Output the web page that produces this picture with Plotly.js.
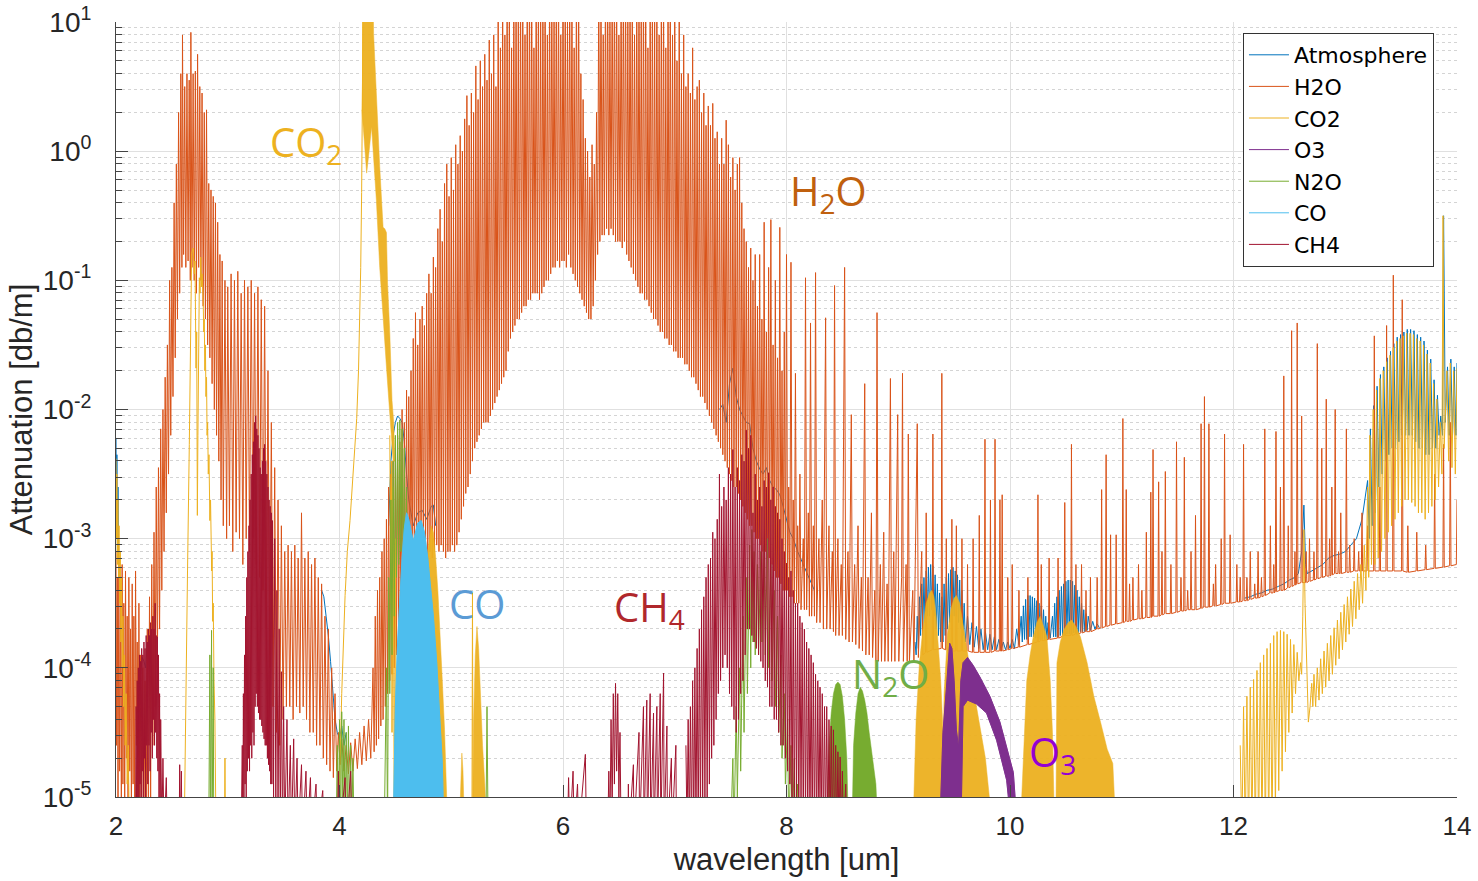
<!DOCTYPE html>
<html>
<head>
<meta charset="utf-8">
<script src="https://cdn.plot.ly/plotly-3.0.1.min.js"></script>
<style>html,body{margin:0;padding:0;background:#fff;}#chart{width:1478px;height:881px;}</style>
</head>
<body>
<div id="chart"></div>
<script>
// All series: [wavelength (um), log10 of attenuation (dB/m)]; null = gap.
const ATMOSPHERE_LOG = [
[2.0,-2.22],[2.004,-2.9],[2.008,-2.35],[2.013,-3.1],[2.018,-2.6],[2.024,-3.2],null,
[2.22,-4.05],[2.235,-3.92],[2.25,-3.95],[2.265,-4.0],[2.28,-3.8],null,
[3.84,-3.4],[3.86,-3.45],[3.88,-3.6],[3.90,-3.75],[3.92,-3.95],[3.94,-4.2],[3.96,-4.4],[3.98,-4.5],[4.00,-4.55],[4.02,-4.45],[4.04,-4.6],[4.06,-4.5],null,
[4.44,-2.9],[4.46,-2.4],[4.48,-2.2],[4.50,-2.1],[4.52,-2.05],[4.54,-2.07],[4.56,-2.1],[4.58,-2.25],[4.60,-2.5],[4.62,-2.7],[4.64,-2.8],[4.66,-2.9],[4.70,-2.8],[4.74,-2.78],[4.78,-2.85],[4.82,-2.75],[4.84,-2.74],[4.86,-2.9],null,
[7.40,-2.0],[7.43,-1.96],[7.46,-2.1],[7.49,-1.8],[7.52,-1.68],[7.55,-1.9],[7.58,-2.0],[7.61,-2.05],[7.64,-2.1],[7.67,-2.11],[7.70,-2.3],[7.73,-2.4],[7.76,-2.46],[7.79,-2.5],[7.82,-2.45],[7.85,-2.55],[7.88,-2.6],[7.91,-2.62],[7.94,-2.66],[7.97,-2.75],[8.00,-2.85],[8.03,-2.95],[8.06,-3.0],[8.10,-3.1],[8.15,-3.2],[8.20,-3.3],[8.25,-3.4],null,
[9.15,-3.8],[9.16,-3.9],[9.17,-3.6],[9.18,-3.85],[9.19,-3.45],[9.20,-3.75],[9.21,-3.35],[9.22,-3.7],[9.23,-3.3],[9.24,-3.65],[9.25,-3.25],[9.26,-3.6],[9.27,-3.22],[9.28,-3.6],[9.29,-3.2],[9.30,-3.55],[9.31,-3.21],[9.32,-3.6],[9.33,-3.28],[9.34,-3.7],[9.35,-3.35],[9.36,-3.75],[9.37,-3.42],[9.38,-3.8],[9.39,-3.45],[9.40,-3.8],[9.41,-3.35],[9.42,-3.75],[9.43,-3.3],[9.44,-3.7],[9.45,-3.27],[9.46,-3.65],[9.47,-3.24],[9.48,-3.6],[9.49,-3.22],[9.50,-3.6],[9.51,-3.25],[9.52,-3.6],[9.53,-3.28],[9.54,-3.65],[9.55,-3.32],[9.56,-3.7],[9.57,-3.4],[9.58,-3.75],[9.59,-3.5],[9.60,-3.8],[9.62,-3.6],[9.64,-3.82],[9.66,-3.65],[9.68,-3.84],[9.70,-3.68],[9.72,-3.85],[9.74,-3.7],[9.76,-3.86],[9.78,-3.72],[9.80,-3.86],[9.82,-3.74],[9.84,-3.86],[9.86,-3.76],[9.88,-3.86],[9.90,-3.78],[9.92,-3.86],[9.94,-3.8],[9.96,-3.86],[9.98,-3.8],[10.00,-3.85],[10.02,-3.78],[10.04,-3.85],[10.06,-3.7],[10.08,-3.82],[10.10,-3.6],[10.11,-3.8],[10.12,-3.52],[10.13,-3.78],[10.14,-3.47],[10.15,-3.78],[10.16,-3.44],[10.17,-3.76],[10.18,-3.44],[10.19,-3.76],[10.20,-3.45],[10.21,-3.76],[10.22,-3.46],[10.23,-3.77],[10.24,-3.48],[10.25,-3.77],[10.26,-3.5],[10.27,-3.78],[10.28,-3.52],[10.29,-3.78],[10.30,-3.55],[10.31,-3.78],[10.32,-3.6],[10.33,-3.78],[10.34,-3.65],[10.36,-3.77],[10.38,-3.6],[10.39,-3.76],[10.40,-3.5],[10.41,-3.76],[10.42,-3.45],[10.43,-3.76],[10.44,-3.4],[10.45,-3.75],[10.46,-3.37],[10.47,-3.75],[10.48,-3.35],[10.49,-3.75],[10.50,-3.33],[10.51,-3.74],[10.52,-3.32],[10.53,-3.74],[10.54,-3.32],[10.55,-3.74],[10.56,-3.33],[10.57,-3.73],[10.58,-3.36],[10.59,-3.73],[10.60,-3.4],[10.61,-3.73],[10.62,-3.45],[10.63,-3.72],[10.64,-3.5],[10.65,-3.72],[10.66,-3.55],[10.67,-3.72],[10.68,-3.58],[10.69,-3.71],[10.70,-3.6],[10.72,-3.71],[10.74,-3.64],[10.76,-3.7],[10.78,-3.66],[10.80,-3.69],null,
[12.10,-3.46],[12.15,-3.45],[12.20,-3.43],[12.25,-3.42],[12.30,-3.4],[12.35,-3.39],[12.40,-3.37],[12.45,-3.35],[12.50,-3.32],[12.55,-3.3],[12.58,-3.27],[12.61,-3.1],[12.63,-2.74],[12.645,-3.2],[12.66,-3.27],[12.70,-3.25],[12.75,-3.22],[12.80,-3.2],[12.85,-3.15],[12.90,-3.13],[12.95,-3.12],[13.00,-3.1],[13.05,-3.05],[13.10,-3.0],[13.15,-2.85],
[13.20,-2.55],[13.215,-3.0],[13.225,-2.15],[13.24,-2.9],[13.255,-1.97],[13.27,-2.8],[13.285,-1.82],[13.30,-2.6],[13.315,-1.73],[13.33,-2.5],[13.345,-1.67],[13.36,-2.4],[13.375,-1.6],[13.39,-2.35],[13.405,-1.55],[13.42,-2.3],[13.435,-1.49],[13.45,-2.3],[13.465,-1.44],[13.48,-2.25],[13.495,-1.42],[13.51,-2.2],[13.525,-1.4],[13.54,-2.2],[13.555,-1.38],[13.57,-2.2],[13.585,-1.38],[13.60,-2.2],[13.615,-1.39],[13.63,-2.25],[13.645,-1.42],[13.66,-2.3],[13.675,-1.44],[13.69,-2.3],[13.705,-1.47],[13.72,-2.35],[13.735,-1.54],[13.75,-2.35],[13.765,-1.61],[13.78,-2.3],[13.795,-1.77],[13.81,-2.3],[13.825,-1.89],[13.84,-2.2],[13.855,-2.05],[13.87,-2.2],[13.88,-0.5],[13.895,-2.1],[13.915,-1.67],[13.93,-2.2],[13.945,-1.61],[13.96,-2.2],[13.975,-1.67],[13.99,-2.2],[14.0,-1.64]
];

const H2O_LOG = [
[2.000,-3.1],[2.005,-4.6],[2.012,-3.3],[2.018,-5.2],[2.025,-3.15],[2.032,-4.8],[2.040,-3.4],[2.048,-5.2],[2.055,-3.2],[2.062,-4.9],[2.070,-3.5],[2.078,-5.2],[2.085,-3.25],[2.093,-4.7],[2.100,-3.6],[2.108,-5.2],[2.115,-3.3],[2.123,-4.8],[2.130,-3.7],[2.138,-5.2],[2.145,-3.35],[2.153,-4.9],[2.160,-3.6],[2.168,-5.2],[2.175,-3.25],[2.183,-4.6],[2.190,-3.8],[2.198,-5.2],[2.205,-3.5],[2.213,-5.2],[2.220,-3.9],[2.230,-5.2],[2.240,-4.0],[2.250,-5.2],[2.260,-4.1],[2.270,-5.2],[2.280,-3.7],[2.290,-5.2],[2.300,-3.45],[2.310,-5.0],[2.320,-3.2],[2.330,-4.6],[2.340,-2.95],[2.350,-4.3],[2.360,-2.6],[2.370,-4.0],[2.380,-2.45],[2.390,-3.7],[2.400,-2.15],[2.410,-3.4],[2.420,-2.0],[2.430,-3.1],[2.440,-1.75],[2.450,-2.8],[2.460,-1.5],[2.470,-2.5],[2.480,-1.0],[2.490,-2.2],[2.500,-0.9],[2.510,-1.9],[2.520,-0.4],[2.530,-1.6],[2.540,-0.1],[2.550,-1.3],[2.560,0.3],[2.570,-1.1],[2.580,0.6],[2.590,-0.9],[2.595,0.9],[2.605,-0.8],[2.615,0.5],[2.625,-0.9],[2.635,0.6],[2.645,-0.85],[2.655,0.55],[2.665,-1.0],[2.670,0.92],[2.680,-0.9],[2.690,0.6],[2.700,-1.0],[2.710,0.62],[2.720,-1.1],[2.730,0.75],[2.740,-0.9],[2.750,0.5],[2.760,-1.0],[2.770,0.45],[2.780,-1.2],[2.790,0.3],[2.800,-1.3],[2.810,0.32],[2.820,-1.5],[2.830,-0.25],[2.840,-1.6],[2.850,-0.3],[2.860,-1.8],[2.870,-0.35],[2.880,-2.0],[2.890,-0.4],[2.900,-2.2],[2.910,-0.55],[2.920,-2.4],[2.930,-0.8],[2.940,-2.7],[2.950,-0.85],[2.960,-2.9],[2.975,-1.0],[2.990,-3.0],[3.000,-1.05],[3.015,-2.9],[3.030,-0.95],[3.045,-3.1],[3.060,-1.0],[3.075,-2.95],[3.090,-0.93],[3.105,-3.0],[3.120,-1.1],[3.135,-3.2],[3.150,-1.0],[3.165,-3.0],[3.180,-1.05],[3.195,-3.1],[3.210,-1.0],[3.225,-3.0],[3.240,-1.1],[3.255,-3.2],[3.270,-1.05],[3.285,-3.3],[3.300,-1.15],[3.315,-3.4],[3.330,-1.2],[3.345,-3.7],[3.360,-1.7],[3.375,-4.0],[3.390,-2.1],[3.405,-4.3],[3.420,-2.45],[3.435,-4.5],[3.450,-2.7],[3.465,-4.6],[3.480,-2.9],[3.495,-4.4],[3.510,-3.1],[3.525,-4.3],[3.540,-3.05],[3.555,-4.3],[3.570,-3.1],[3.585,-4.4],[3.600,-3.05],[3.615,-4.3],[3.630,-3.15],[3.645,-4.35],[3.660,-2.8],[3.675,-4.3],[3.690,-3.15],[3.705,-4.4],[3.720,-3.1],[3.735,-4.5],[3.750,-3.2],[3.765,-4.5],[3.780,-3.15],[3.795,-4.6],[3.810,-3.3],[3.825,-4.6],[3.840,-3.35],[3.855,-4.7],[3.870,-3.6],[3.885,-4.75],[3.900,-3.7],[3.915,-4.8],[3.930,-4.0],[3.945,-4.85],[3.960,-4.2],[3.975,-4.8],[3.990,-4.5],[4.005,-4.75],
[4.020,-4.55],[4.040,-4.8],[4.060,-4.6],[4.080,-4.82],[4.100,-4.58],[4.120,-4.8],[4.140,-4.55],[4.160,-4.78],[4.180,-4.5],[4.200,-4.75],[4.220,-4.45],[4.240,-4.72],[4.260,-4.4],[4.280,-4.7],[4.300,-4.0],[4.310,-4.65],[4.320,-3.6],[4.330,-4.6],[4.340,-3.4],[4.350,-4.55],[4.360,-3.3],[4.370,-4.45],[4.380,-3.1],[4.390,-4.4],[4.400,-3.0],[4.410,-4.3],[4.420,-2.85],[4.430,-4.2],[4.440,-2.6],[4.450,-4.1],[4.460,-2.5],[4.470,-4.05],[4.480,-2.4],[4.490,-4.0],[4.500,-2.3],[4.510,-3.9],[4.520,-2.2],[4.530,-3.8],[4.540,-2.25],[4.550,-3.7],[4.560,-2.0],[4.570,-3.65],[4.580,-2.1],[4.590,-3.55],[4.600,-1.85],[4.610,-3.5],[4.620,-1.9],[4.630,-3.45],[4.640,-1.7],[4.650,-3.4],[4.660,-1.45],[4.670,-3.3],[4.680,-1.25],[4.690,-3.3],[4.700,-1.5],[4.710,-3.2],[4.720,-1.3],[4.730,-3.25],[4.740,-1.2],[4.750,-3.2],[4.760,-1.35],[4.770,-3.15],[4.780,-1.1],[4.790,-3.2],[4.800,-0.95],[4.810,-3.1],[4.820,-1.1],[4.830,-3.15],[4.840,-0.82],[4.850,-3.1],[4.860,-0.9],[4.870,-3.05],[4.880,-0.6],[4.890,-3.1],[4.900,-0.45],[4.910,-3.05],[4.920,-0.7],[4.930,-3.1],[4.940,-0.25],[4.950,-3.15],[4.960,-0.1],[4.970,-3.1],[4.980,-0.35],[4.990,-3.1],[5.000,-0.05],[5.010,-3.05],[5.020,-0.3],[5.030,-3.1],[5.040,0.05],[5.050,-3.05],[5.060,-0.1],[5.070,-2.95],[5.080,0.12],[5.090,-2.85],[5.100,0.0],[5.110,-2.75],[5.120,0.25],[5.130,-2.65],[5.140,0.43],[5.150,-2.6],[5.160,0.2],[5.170,-2.5],[5.180,0.45],[5.190,-2.4],[5.200,0.3],[5.210,-2.3],[5.220,0.66],[5.230,-2.25],[5.240,0.4],[5.250,-2.2],[5.260,0.7],[5.270,-2.15],[5.280,0.5],[5.290,-2.1],[5.300,0.75],[5.310,-2.1],[5.320,0.55],[5.330,-2.1],[5.340,0.86],[5.350,-2.05],[5.360,0.6],[5.370,-2.0],[5.380,0.9],[5.390,-1.95],[5.400,0.5],[5.410,-1.9],[5.420,1.3],[5.430,-1.85],[5.440,0.8],[5.450,-1.8],[5.460,1.3],[5.470,-1.75],[5.480,0.9],[5.490,-1.7],[5.500,1.3],[5.510,-1.55],[5.520,1.3],[5.530,-1.45],[5.540,0.8],[5.550,-1.4],[5.560,1.3],[5.570,-1.35],[5.580,1.3],[5.590,-1.3],[5.600,1.0],[5.610,-1.3],[5.620,1.3],[5.630,-1.25],[5.640,1.3],[5.650,-1.2],[5.660,0.9],[5.670,-1.2],[5.680,1.3],[5.690,-1.15],[5.700,1.3],[5.710,-1.15],[5.720,1.3],[5.730,-1.1],[5.740,0.8],[5.750,-1.1],[5.760,1.3],[5.770,-1.1],[5.780,1.3],[5.790,-1.15],[5.800,1.0],[5.810,-1.1],[5.820,1.3],[5.830,-1.05],[5.840,1.3],[5.850,-1.0],[5.860,0.9],[5.870,-1.0],[5.880,1.3],[5.890,-0.95],[5.900,1.3],[5.910,-0.9],[5.920,1.0],[5.930,-0.9],[5.940,1.3],[5.950,-0.85],[5.960,1.3],[5.970,-0.9],[5.980,0.9],[5.990,-0.85],
[6.000,1.3],[6.010,-0.85],[6.020,1.3],[6.030,-0.9],[6.040,1.0],[6.050,-0.8],[6.060,1.3],[6.070,-0.9],[6.080,1.3],[6.090,-0.95],[6.100,0.8],[6.110,-1.0],[6.120,1.3],[6.130,-1.05],[6.140,1.3],[6.150,-1.1],[6.160,0.6],[6.170,-1.15],[6.180,0.4],[6.190,-1.2],[6.200,0.1],[6.210,-1.25],[6.220,0.0],[6.230,-1.3],[6.240,-0.2],[6.250,-1.3],[6.260,0.05],[6.270,-1.2],[6.280,-0.1],[6.290,-1.0],[6.300,0.3],[6.310,-0.8],[6.320,1.3],[6.330,-0.7],[6.340,1.3],[6.350,-0.65],[6.360,0.9],[6.370,-0.65],[6.380,1.3],[6.390,-0.6],[6.400,1.3],[6.410,-0.65],[6.420,1.0],[6.430,-0.6],[6.440,1.3],[6.450,-0.65],[6.460,1.3],[6.470,-0.7],[6.480,1.3],[6.490,-0.7],[6.500,0.9],[6.510,-0.7],[6.520,1.3],[6.530,-0.75],[6.540,1.3],[6.550,-0.7],[6.560,1.3],[6.570,-0.8],[6.580,1.0],[6.590,-0.85],[6.600,1.3],[6.610,-0.9],[6.620,1.3],[6.630,-0.95],[6.640,0.9],[6.650,-1.0],[6.660,1.3],[6.670,-1.05],[6.680,1.3],[6.690,-1.1],[6.700,1.0],[6.710,-1.1],[6.720,1.3],[6.730,-1.15],[6.740,1.3],[6.750,-1.15],[6.760,0.8],[6.770,-1.2],[6.780,1.3],[6.790,-1.25],[6.800,1.3],[6.810,-1.3],[6.820,1.0],[6.830,-1.3],[6.840,1.3],[6.850,-1.35],[6.860,0.9],[6.870,-1.4],[6.880,1.3],[6.890,-1.4],[6.900,1.3],[6.910,-1.45],[6.920,0.8],[6.930,-1.45],[6.940,1.3],[6.950,-1.5],[6.960,1.3],[6.970,-1.5],[6.980,0.9],[6.990,-1.55],
[7.000,1.3],[7.010,-1.55],[7.020,0.7],[7.030,-1.6],[7.040,1.3],[7.050,-1.6],[7.060,0.6],[7.070,-1.6],[7.080,0.9],[7.090,-1.65],[7.100,0.5],[7.110,-1.65],[7.120,0.6],[7.130,-1.7],[7.140,0.45],[7.150,-1.75],[7.160,0.8],[7.170,-1.75],[7.180,0.4],[7.190,-1.8],[7.200,0.5],[7.210,-1.85],[7.220,0.55],[7.230,-1.9],[7.240,0.3],[7.250,-1.9],[7.260,0.45],[7.270,-1.95],[7.280,0.2],[7.290,-2.0],[7.300,0.35],[7.310,-2.05],[7.320,0.2],[7.330,-2.1],[7.340,0.37],[7.350,-2.15],[7.360,0.1],[7.370,-2.2],[7.380,0.15],[7.390,-2.25],[7.400,-0.1],[7.410,-2.3],[7.420,0.1],[7.430,-2.35],[7.440,-0.1],[7.450,-2.4],[7.460,0.24],[7.470,-2.45],[7.480,0.05],[7.490,-2.5],[7.500,-0.2],[7.510,-2.55],[7.520,-0.05],[7.530,-2.6],[7.540,-0.3],[7.550,-2.6],[7.560,-0.1],[7.570,-2.65],[7.580,-0.05],[7.590,-2.7],[7.600,-0.4],[7.610,-2.75],[7.620,-0.6],[7.630,-2.8],[7.640,-0.7],[7.650,-2.85],[7.660,-0.9],[7.670,-2.9],[7.680,-0.75],[7.690,-2.9],[7.700,-1.0],[7.710,-2.95],[7.720,-0.8],[7.730,-3.0],[7.740,-1.2],[7.750,-3.0],[7.760,-0.8],[7.770,-3.05],[7.780,-1.3],[7.790,-3.1],[7.800,-0.55],[7.810,-3.1],[7.820,-1.4],[7.830,-3.15],[7.840,-0.9],[7.850,-3.15],[7.860,-0.53],[7.870,-3.2],[7.880,-1.5],[7.890,-3.25],[7.900,-1.0],[7.910,-3.3],[7.920,-1.6],[7.930,-3.3],[7.940,-0.59],[7.950,-3.35],[7.960,-1.7],[7.970,-3.4],[7.980,-1.4],[7.990,-3.4],
[8.000,-0.8],[8.010,-3.4],[8.020,-2.6],[8.030,-3.45],[8.040,-0.86],[8.050,-3.45],[8.060,-2.7],[8.070,-3.5],[8.080,-1.72],[8.090,-3.5],[8.100,-2.9],[8.110,-3.5],[8.120,-2.5],[8.130,-3.55],[8.150,-3.0],[8.160,-3.55],[8.170,-0.98],[8.180,-3.55],[8.195,-2.8],[8.205,-3.6],[8.215,-1.33],[8.225,-3.6],[8.240,-2.9],[8.250,-3.6],[8.260,-0.94],[8.270,-3.65],[8.290,-3.0],[8.300,-3.65],[8.320,-2.7],[8.330,-3.7],[8.350,-1.29],[8.360,-3.7],[8.380,-2.9],[8.390,-3.7],[8.410,-3.1],[8.420,-3.72],[8.430,-1.04],[8.440,-3.75],[8.460,-3.0],[8.470,-3.75],[8.490,-3.2],[8.500,-3.75],[8.520,-0.9],[8.530,-3.78],[8.550,-3.1],[8.560,-3.8],[8.580,-2.04],[8.590,-3.8],[8.610,-3.2],[8.620,-3.82],[8.640,-2.9],[8.650,-3.85],[8.670,-3.3],[8.680,-3.87],[8.700,-1.8],[8.710,-3.9],[8.730,-3.3],[8.740,-3.9],[8.760,-2.8],[8.770,-3.92],[8.790,-3.4],[8.800,-3.95],[8.810,-1.25],[8.820,-3.95],[8.840,-3.2],[8.850,-3.95],[8.870,-2.95],[8.880,-3.95],[8.900,-3.35],[8.910,-3.95],[8.930,-1.76],[8.940,-3.95],[8.960,-3.1],[8.970,-3.95],[8.995,-2.04],[9.005,-3.95],[9.030,-3.3],[9.038,-1.72],[9.046,-3.95],[9.070,-3.2],[9.080,-3.95],[9.090,-2.19],[9.100,-3.95],[9.130,-3.4],[9.140,-3.95],[9.170,-2.11],[9.180,-3.92],[9.210,-3.1],[9.220,-3.9],
[9.244,-3.88],[9.250,-2.8],[9.256,-3.88],[9.304,-3.86],[9.310,-2.19],[9.316,-3.86],[9.384,-3.85],[9.390,-1.72],[9.396,-3.85],[9.424,-3.86],[9.430,-3.0],[9.436,-3.86],[9.474,-3.87],[9.480,-2.85],[9.486,-3.87],[9.514,-3.87],[9.520,-2.9],[9.526,-3.87],[9.564,-3.87],[9.570,-3.0],[9.576,-3.87],[9.614,-3.87],[9.620,-3.2],[9.626,-3.87],[9.664,-3.88],[9.670,-3.0],[9.676,-3.88],[9.719,-3.88],[9.725,-2.82],[9.731,-3.88],[9.770,-3.88],[9.776,-2.23],[9.782,-3.88],[9.819,-3.88],[9.825,-2.7],[9.831,-3.88],[9.860,-3.87],[9.866,-2.23],[9.872,-3.87],[9.904,-3.87],[9.910,-2.7],[9.916,-3.87],[9.924,-3.87],[9.930,-2.66],[9.936,-3.87],[9.974,-3.86],[9.980,-3.3],[9.986,-3.86],
[10.014,-3.85],[10.020,-3.2],[10.026,-3.85],[10.074,-3.84],[10.080,-3.4],[10.086,-3.84],[10.154,-3.82],[10.160,-3.3],[10.166,-3.82],[10.244,-3.8],[10.250,-2.66],[10.256,-3.8],[10.274,-3.79],[10.280,-3.2],[10.286,-3.79],[10.344,-3.78],[10.350,-3.15],[10.356,-3.78],[10.424,-3.77],[10.430,-3.15],[10.436,-3.77],[10.484,-3.75],[10.490,-2.72],[10.496,-3.75],[10.544,-3.75],[10.550,-2.27],[10.556,-3.75],[10.584,-3.74],[10.590,-3.2],[10.596,-3.74],[10.634,-3.73],[10.640,-3.2],[10.646,-3.73],[10.674,-3.72],[10.680,-3.4],[10.686,-3.72],[10.714,-3.72],[10.720,-3.3],[10.726,-3.72],[10.774,-3.7],[10.780,-3.3],[10.786,-3.7],[10.814,-3.69],[10.820,-2.62],[10.826,-3.69],[10.854,-3.68],[10.860,-2.35],[10.866,-3.68],[10.894,-3.67],[10.900,-2.97],[10.906,-3.67],[10.944,-3.66],[10.950,-2.97],[10.956,-3.66],
[11.004,-3.65],[11.010,-2.07],[11.016,-3.65],[11.034,-3.64],[11.040,-2.62],[11.046,-3.64],[11.064,-3.64],[11.070,-3.35],[11.076,-3.64],[11.094,-3.63],[11.100,-3.3],[11.106,-3.63],[11.144,-3.62],[11.150,-3.2],[11.156,-3.62],[11.174,-3.62],[11.180,-3.4],[11.186,-3.62],[11.214,-3.61],[11.220,-2.95],[11.226,-3.61],[11.254,-3.61],[11.260,-2.64],[11.266,-3.61],[11.274,-3.6],[11.280,-2.31],[11.286,-3.6],[11.324,-3.6],[11.330,-2.56],[11.336,-3.6],[11.354,-3.59],[11.360,-3.1],[11.366,-3.59],[11.384,-3.58],[11.390,-2.48],[11.396,-3.58],[11.434,-3.58],[11.440,-3.2],[11.446,-3.58],[11.484,-3.57],[11.490,-2.25],[11.496,-3.57],[11.524,-3.56],[11.530,-3.3],[11.536,-3.56],[11.554,-3.56],[11.560,-2.37],[11.566,-3.56],[11.584,-3.55],[11.590,-3.4],[11.596,-3.55],[11.614,-3.55],[11.620,-3.1],[11.626,-3.55],[11.654,-3.55],[11.660,-2.82],[11.666,-3.55],[11.704,-3.54],[11.710,-2.11],[11.716,-3.54],[11.734,-3.53],[11.740,-1.9],[11.746,-3.53],[11.774,-3.53],[11.780,-2.11],[11.786,-3.53],[11.814,-3.52],[11.820,-3.35],[11.826,-3.52],[11.834,-3.52],[11.840,-3.2],[11.846,-3.52],[11.884,-3.51],[11.890,-3.0],[11.896,-3.51],[11.914,-3.5],[11.920,-2.19],[11.926,-3.5],[11.964,-3.5],[11.970,-2.97],[11.976,-3.5],
[12.024,-3.49],[12.030,-3.2],[12.036,-3.49],[12.054,-3.49],[12.060,-3.3],[12.066,-3.49],[12.084,-3.48],[12.090,-2.27],[12.096,-3.48],[12.114,-3.48],[12.120,-3.3],[12.126,-3.48],[12.144,-3.47],[12.150,-3.1],[12.156,-3.47],[12.184,-3.46],[12.190,-3.35],[12.196,-3.46],[12.214,-3.46],[12.220,-3.1],[12.226,-3.46],[12.244,-3.45],[12.250,-3.3],[12.256,-3.45],[12.274,-3.44],[12.280,-2.15],[12.286,-3.44],[12.324,-3.42],[12.330,-2.9],[12.336,-3.42],[12.354,-3.42],[12.360,-3.2],[12.366,-3.42],[12.374,-3.41],[12.380,-2.17],[12.386,-3.41],[12.414,-3.4],[12.420,-2.6],[12.426,-3.4],[12.444,-3.4],[12.450,-1.74],[12.456,-3.4],[12.484,-3.38],[12.490,-2.9],[12.496,-3.38],[12.514,-3.37],[12.520,-1.39],[12.526,-3.37],[12.544,-3.36],[12.550,-3.1],[12.556,-3.36],[12.564,-3.35],[12.570,-1.33],[12.576,-3.35],[12.604,-3.34],[12.610,-2.05],[12.616,-3.34],[12.644,-3.34],[12.650,-3.1],[12.656,-3.34],[12.674,-3.33],[12.680,-3.0],[12.686,-3.33],[12.714,-3.32],[12.720,-3.1],[12.726,-3.32],[12.744,-3.31],[12.750,-1.49],[12.756,-3.31],[12.784,-3.3],[12.790,-2.3],[12.796,-3.3],[12.824,-3.29],[12.830,-1.92],[12.836,-3.29],[12.854,-3.29],[12.860,-3.0],[12.866,-3.29],[12.874,-3.28],[12.880,-2.6],[12.886,-3.28],[12.904,-3.27],[12.910,-2.0],[12.916,-3.27],[12.934,-3.27],[12.940,-3.1],[12.946,-3.27],[12.954,-3.27],[12.960,-2.8],[12.966,-3.27],
[13.004,-3.26],[13.010,-2.15],[13.016,-3.26],[13.034,-3.26],[13.040,-3.05],[13.046,-3.26],[13.074,-3.25],[13.080,-3.0],[13.086,-3.25],[13.114,-3.25],[13.120,-3.1],[13.126,-3.25],[13.144,-3.25],[13.150,-2.8],[13.156,-3.25],[13.194,-3.25],[13.200,-2.9],[13.206,-3.25],[13.254,-3.25],[13.260,-1.43],[13.266,-3.25],[13.304,-3.25],[13.310,-2.6],[13.316,-3.25],[13.364,-3.25],[13.370,-1.35],[13.376,-3.25],[13.424,-3.25],[13.430,-0.96],[13.436,-3.25],[13.504,-3.25],[13.510,-1.15],[13.516,-3.25],[13.554,-3.26],[13.560,-2.9],[13.566,-3.26],[13.634,-3.25],[13.640,-2.95],[13.646,-3.25],[13.714,-3.24],[13.720,-3.05],[13.726,-3.24],[13.794,-3.23],[13.800,-2.5],[13.806,-3.23],[13.874,-3.22],[13.880,-2.27],[13.886,-3.22],[13.934,-3.21],[13.940,-2.1],[13.946,-3.21],[13.994,-3.2],[14.000,-2.7]
];

const CO2_LINES_LOG = [
[2.0,-2.38],[2.004,-3.0],[2.008,-2.5],[2.012,-3.2],[2.017,-2.7],[2.022,-3.3],[2.027,-2.9],[2.032,-3.5],[2.038,-3.1],[2.044,-3.8],[2.05,-3.3],[2.056,-4.0],[2.062,-3.6],[2.068,-4.3],[2.075,-3.9],[2.082,-4.6],[2.09,-4.2],[2.10,-4.9],[2.11,-4.6],[2.12,-5.3],null,
[2.61,-5.3],[2.626,-4.03],[2.64,-3.25],[2.656,-2.27],[2.668,-1.29],[2.677,-0.79],[2.69,-0.75],[2.70,-0.95],[2.707,-0.85],[2.716,-1.68],[2.722,-1.4],[2.728,-2.82],[2.733,-2.2],[2.737,-1.6],[2.742,-1.2],[2.746,-0.98],[2.752,-1.1],[2.758,-0.82],[2.765,-1.05],[2.77,-0.95],[2.78,-1.14],[2.785,-1.4],[2.79,-1.3],[2.795,-1.7],[2.80,-1.5],[2.805,-1.9],[2.81,-1.75],[2.815,-2.2],[2.82,-2.1],[2.826,-2.5],[2.832,-2.35],[2.84,-2.86],[2.846,-2.7],[2.856,-3.25],[2.86,-3.1],[2.865,-3.64],[2.87,-3.5],[2.877,-4.1],[2.885,-4.4],[2.895,-5.3],null,
[2.97,-5.3],[2.975,-4.7],[2.98,-5.3],null,
[3.99,-5.3],[4.02,-4.2],[4.05,-3.44],[4.07,-3.1],[4.094,-2.86],[4.12,-2.5],[4.154,-2.07],[4.17,-1.7],[4.183,-1.29],[4.19,-0.9],[4.198,-0.32],[4.205,0.5],[4.213,1.3],null,
[4.45,-2.2],[4.46,-3.5],[4.465,-2.4],[4.47,-4.5],[4.48,-2.6],[4.49,-5.3],[4.50,-3.0],[4.51,-5.3],null,
[5.185,-5.3],[5.19,-3.42],[5.195,-5.3],null,
[12.06,-4.6],[12.075,-5.3],[12.09,-4.3],[12.105,-5.3],[12.12,-4.22],[12.135,-5.3],[12.15,-4.15],[12.165,-5.3],[12.18,-4.09],[12.195,-5.3],[12.21,-4.02],[12.225,-5.3],[12.24,-3.96],[12.255,-5.3],[12.27,-3.9],[12.285,-5.3],[12.30,-3.85],[12.315,-5.3],[12.33,-3.81],[12.345,-5.3],[12.36,-3.75],[12.375,-5.1],[12.39,-3.72],[12.405,-4.95],[12.42,-3.71],[12.435,-4.8],[12.45,-3.72],[12.465,-4.65],[12.48,-3.74],[12.495,-4.5],[12.51,-3.78],[12.525,-4.35],[12.54,-3.82],[12.555,-4.2],[12.57,-3.88],[12.585,-4.1],[12.60,-3.96],[12.61,-4.05],[12.62,-3.6],[12.63,-2.93],[12.64,-3.5],[12.66,-4.2],[12.67,-4.42],[12.685,-4.3],[12.70,-4.12],[12.71,-4.3],[12.72,-4.05],[12.735,-4.3],[12.75,-4.0],[12.765,-4.25],[12.78,-3.93],[12.795,-4.2],[12.81,-3.87],[12.825,-4.15],[12.84,-3.81],[12.855,-4.1],[12.87,-3.75],[12.885,-4.05],[12.90,-3.69],[12.915,-3.98],[12.93,-3.63],[12.945,-3.93],[12.96,-3.57],[12.975,-3.86],[12.99,-3.51],[13.005,-3.8],[13.02,-3.45],[13.035,-3.74],[13.05,-3.39],[13.065,-3.68],[13.08,-3.33],[13.095,-3.62],[13.11,-3.27],[13.125,-3.55],[13.14,-3.2],[13.155,-3.5],[13.17,-3.05],[13.185,-3.4],[13.20,-2.6],[13.21,-3.3],[13.22,-2.2],[13.235,-3.2],[13.25,-2.0],[13.265,-3.2],[13.28,-1.85],[13.295,-3.15],[13.31,-1.76],[13.325,-3.1],[13.34,-1.7],[13.355,-3.0],[13.37,-1.63],[13.385,-2.95],[13.40,-1.58],[13.415,-2.9],[13.43,-1.52],[13.445,-2.85],[13.46,-1.47],[13.475,-2.8],[13.49,-1.45],[13.505,-2.75],[13.52,-1.43],[13.535,-2.7],[13.55,-1.41],[13.565,-2.7],[13.58,-1.41],[13.595,-2.72],[13.61,-1.42],[13.625,-2.75],[13.64,-1.45],[13.655,-2.8],[13.67,-1.47],[13.685,-2.8],[13.70,-1.5],[13.715,-2.85],[13.73,-1.57],[13.745,-2.8],[13.76,-1.64],[13.775,-2.75],[13.79,-1.8],[13.805,-2.7],[13.82,-1.92],[13.835,-2.6],[13.85,-2.1],[13.865,-2.5],[13.875,-0.5],[13.885,-2.3],[13.91,-1.7],[13.925,-2.4],[13.94,-1.64],[13.955,-2.45],[13.97,-1.7],[13.985,-2.5],[14.0,-1.68]
];

const CO2_BANDS_LOG = [
[4.205,1.3],[4.300,1.3],[4.305,0.91],[4.33,0.4],[4.36,-0.12],[4.39,-0.59],[4.405,-0.6],[4.42,-0.63],[4.43,-1.02],[4.45,-1.41],[4.47,-1.93],[4.485,-2.1],[4.495,-2.4],[4.48,-2.4],[4.45,-2.06],[4.42,-1.67],[4.39,-1.28],[4.36,-0.9],[4.33,-0.38],[4.30,0.06],[4.287,0.19],[4.265,0.0],[4.243,-0.17],[4.22,0.1],[4.20,0.32],null,
[4.74,-5.3],[4.76,-3.6],[4.79,-3.1],[4.82,-2.9],[4.84,-2.95],[4.86,-3.14],[4.88,-3.4],[4.90,-3.71],[4.92,-4.1],[4.94,-4.48],[4.96,-4.9],[4.97,-5.3],null,
[5.07,-5.3],[5.085,-4.8],[5.095,-4.66],[5.105,-4.8],[5.12,-5.3],null,
[5.19,-5.3],[5.20,-4.4],[5.215,-3.9],[5.23,-3.68],[5.245,-3.85],[5.26,-4.2],[5.28,-4.6],[5.30,-4.9],[5.32,-5.3],null,
[9.13,-5.3],[9.16,-4.4],[9.19,-3.96],[9.22,-3.7],[9.25,-3.5],[9.28,-3.42],[9.30,-3.4],[9.32,-3.45],[9.34,-3.6],[9.36,-3.85],[9.38,-4.1],[9.40,-4.48],[9.41,-5.3],null,
[9.39,-5.3],[9.41,-4.2],[9.44,-3.75],[9.47,-3.55],[9.50,-3.46],[9.52,-3.44],[9.55,-3.5],[9.58,-3.65],[9.61,-3.83],[9.65,-4.05],[9.69,-4.25],[9.73,-4.42],[9.78,-4.7],[9.85,-5.3],null,
[10.09,-5.3],[10.13,-4.42],[10.15,-4.1],[10.18,-3.9],[10.21,-3.75],[10.24,-3.65],[10.27,-3.6],[10.30,-3.68],[10.33,-3.76],[10.36,-4.1],[10.38,-4.5],[10.40,-5.3],null,
[10.41,-5.3],[10.42,-3.96],[10.45,-3.8],[10.48,-3.71],[10.52,-3.65],[10.55,-3.63],[10.59,-3.68],[10.63,-3.76],[10.69,-3.96],[10.75,-4.22],[10.81,-4.42],[10.87,-4.63],[10.92,-4.74],[10.95,-5.3]
];

const O3_LOG = [
[9.37,-5.3],[9.40,-4.5],[9.43,-4.17],[9.45,-3.9],[9.46,-3.81],[9.48,-3.85],[9.50,-4.1],[9.52,-4.48],[9.54,-4.62],[9.56,-4.1],[9.58,-3.96],[9.62,-3.92],[9.67,-3.98],[9.73,-4.07],[9.82,-4.22],[9.91,-4.42],[9.97,-4.61],[10.03,-4.81],[10.07,-5.3],[10.02,-5.3],[9.97,-4.87],[9.88,-4.56],[9.79,-4.35],[9.70,-4.28],[9.62,-4.25],[9.58,-4.3],[9.56,-5.3],[9.37,-5.3]
];

const N2O_LINES_LOG = [
[2.83,-5.3],[2.84,-3.9],[2.845,-5.3],[2.855,-3.71],[2.86,-5.3],[2.87,-4.0],[2.875,-5.3],null,
[3.97,-5.3],[3.98,-4.6],[3.99,-5.3],[4.0,-4.4],[4.01,-5.3],[4.02,-4.34],[4.03,-5.1],[4.04,-4.4],[4.05,-5.3],[4.06,-4.5],[4.07,-5.2],[4.08,-4.45],[4.09,-5.3],[4.10,-4.6],[4.11,-5.3],[4.12,-4.7],[4.13,-5.3],null,
[4.40,-5.3],[4.42,-4.0],[4.43,-5.3],[4.44,-3.3],[4.45,-4.2],[4.46,-2.7],[4.47,-3.9],[4.48,-2.4],[4.49,-3.6],[4.50,-2.2],[4.51,-3.3],[4.52,-2.1],[4.53,-3.2],[4.54,-2.08],[4.55,-3.1],[4.56,-2.15],[4.57,-3.3],[4.58,-2.3],[4.59,-3.5],[4.60,-2.6],[4.61,-3.8],[4.62,-2.9],[4.63,-4.2],[4.64,-3.3],[4.65,-4.6],[4.66,-3.8],[4.68,-5.3],null,
[5.31,-5.3],[5.32,-4.3],[5.33,-5.3],null,
[7.50,-5.3],[7.52,-4.7],[7.53,-5.3],[7.55,-4.3],[7.56,-5.0],[7.58,-4.0],[7.59,-4.8],[7.61,-3.6],[7.62,-4.5],[7.64,-3.3],[7.65,-4.2],[7.67,-3.05],[7.68,-4.0],[7.69,-2.93],[7.70,-3.8],[7.71,-3.1],[7.72,-3.9],[7.74,-3.2],[7.75,-3.9],[7.77,-3.1],[7.78,-3.8],[7.80,-3.05],[7.81,-3.9],[7.83,-3.0],[7.84,-4.0],[7.86,-3.2],[7.87,-4.1],[7.89,-3.4],[7.90,-4.3],[7.92,-3.6],[7.93,-4.5],[7.95,-3.9],[7.96,-4.7],[7.98,-4.2],[7.99,-4.9],[8.01,-4.4],[8.02,-5.3],[8.04,-4.6],[8.05,-5.3],[8.07,-4.7],[8.08,-5.3],[8.10,-4.9],[8.11,-5.3]
];

const N2O_BANDS_LOG = [
[8.36,-5.3],[8.38,-4.6],[8.40,-4.35],[8.42,-4.2],[8.44,-4.13],[8.46,-4.11],[8.48,-4.13],[8.50,-4.22],[8.52,-4.4],[8.54,-4.7],[8.555,-5.3],null,
[8.585,-5.3],[8.60,-4.6],[8.62,-4.35],[8.64,-4.2],[8.66,-4.15],[8.68,-4.18],[8.70,-4.25],[8.72,-4.35],[8.74,-4.5],[8.77,-4.7],[8.80,-4.9],[8.82,-5.3]
];

const CO_LOG = [
[4.48,-5.3],[4.50,-4.3],[4.52,-3.8],[4.54,-3.45],[4.56,-3.15],[4.58,-2.92],[4.60,-2.8],[4.62,-2.85],[4.64,-2.95],[4.66,-3.02],[4.68,-2.95],[4.70,-2.88],[4.73,-2.86],[4.76,-2.95],[4.79,-3.15],[4.81,-3.32],[4.84,-3.6],[4.87,-3.96],[4.90,-4.4],[4.92,-4.74],[4.935,-5.3]
];

const CH4_LOG = [
[2.175,-5.3],[2.18,-4.3],[2.185,-5.3],[2.19,-4.1],[2.195,-5.0],[2.20,-4.0],[2.205,-5.3],[2.21,-3.9],[2.215,-4.9],[2.22,-3.95],[2.225,-5.2],[2.23,-3.85],[2.235,-4.8],[2.24,-3.9],[2.245,-5.1],[2.25,-3.8],[2.255,-4.7],[2.26,-3.85],[2.265,-5.0],[2.27,-3.75],[2.275,-4.6],[2.28,-3.8],[2.285,-4.9],[2.29,-3.7],[2.295,-4.6],[2.30,-3.75],[2.305,-4.8],[2.31,-3.65],[2.315,-4.5],[2.32,-3.7],[2.325,-4.7],[2.33,-3.6],[2.335,-4.4],[2.34,-3.7],[2.345,-4.6],[2.35,-3.5],[2.355,-4.5],[2.36,-3.75],[2.365,-4.7],[2.37,-3.76],[2.375,-4.8],[2.38,-3.9],[2.385,-5.0],[2.39,-4.2],[2.395,-5.2],[2.40,-4.4],[2.41,-5.3],[2.42,-4.7],[2.43,-5.3],[2.45,-4.85],[2.46,-5.3],null,
[2.565,-5.3],[2.57,-4.75],[2.575,-5.3],[2.585,-4.8],[2.59,-5.3],null,
[3.12,-5.3],[3.13,-4.6],[3.135,-5.3],[3.14,-4.2],[3.145,-5.1],[3.15,-3.9],[3.155,-4.9],[3.16,-3.6],[3.165,-5.0],[3.17,-3.3],[3.175,-4.8],[3.18,-3.1],[3.185,-4.7],[3.19,-2.9],[3.195,-4.8],[3.20,-2.7],[3.205,-4.6],[3.21,-2.5],[3.215,-4.7],[3.22,-2.35],[3.225,-4.5],[3.23,-2.25],[3.235,-4.6],[3.24,-2.1],[3.245,-4.3],[3.25,-2.05],[3.255,-4.2],[3.26,-2.15],[3.265,-4.3],[3.27,-2.2],[3.275,-4.35],[3.28,-2.3],[3.285,-4.4],[3.29,-2.45],[3.295,-4.4],[3.30,-2.5],[3.305,-4.45],[3.31,-2.4],[3.315,-4.5],[3.32,-2.3],[3.325,-4.55],[3.33,-2.27],[3.335,-4.6],[3.34,-2.4],[3.345,-4.6],[3.35,-2.5],[3.355,-4.7],[3.36,-2.6],[3.365,-4.75],[3.37,-2.7],[3.375,-4.8],[3.38,-2.75],[3.385,-4.9],[3.39,-2.8],[3.395,-4.9],[3.40,-2.86],[3.41,-5.0],[3.42,-3.0],[3.43,-5.1],[3.44,-3.4],[3.45,-5.2],[3.46,-3.7],[3.47,-5.2],[3.48,-4.03],[3.49,-5.3],[3.50,-4.3],[3.51,-5.3],[3.53,-4.4],[3.54,-5.3],[3.56,-4.6],[3.57,-5.3],[3.59,-4.55],[3.60,-5.3],[3.62,-4.7],[3.63,-5.3],[3.66,-4.75],[3.67,-5.3],[3.70,-4.8],[3.71,-5.3],[3.74,-4.85],[3.75,-5.3],[3.79,-4.9],[3.80,-5.3],[3.85,-4.95],[3.86,-5.3],null,
[3.98,-5.3],[3.99,-4.8],[4.0,-5.3],[4.05,-4.85],[4.06,-5.3],[4.1,-4.8],[4.11,-5.3],null,
[6.04,-5.3],[6.05,-4.85],[6.06,-5.3],[6.09,-4.8],[6.10,-5.3],[6.13,-4.9],[6.14,-5.3],[6.20,-4.67],[6.21,-5.3],null,
[6.40,-5.3],[6.41,-4.8],[6.42,-5.3],[6.43,-4.4],[6.44,-5.1],[6.45,-4.2],[6.46,-4.9],[6.47,-4.12],[6.48,-4.8],[6.49,-4.2],[6.50,-5.0],[6.51,-4.5],[6.52,-5.3],null,
[6.58,-5.3],[6.585,-4.9],[6.59,-5.3],[6.63,-4.75],[6.635,-5.3],[6.68,-4.5],[6.685,-5.3],[6.72,-4.3],[6.725,-5.3],[6.75,-4.25],[6.755,-5.3],[6.78,-4.2],[6.785,-5.3],[6.81,-4.35],[6.815,-5.3],[6.84,-4.3],[6.845,-5.3],[6.87,-4.2],[6.875,-5.3],[6.90,-4.04],[6.905,-5.3],[6.93,-4.45],[6.935,-5.3],[6.97,-4.7],[6.975,-5.3],[7.01,-4.6],[7.015,-5.3],null,
[7.10,-4.6],[7.11,-5.3],[7.12,-4.4],[7.13,-5.3],[7.14,-4.3],[7.15,-5.3],[7.16,-4.1],[7.17,-5.3],[7.18,-4.0],[7.19,-5.3],[7.20,-3.85],[7.21,-5.3],[7.22,-3.7],[7.23,-5.2],[7.24,-3.55],[7.25,-5.1],[7.26,-3.45],[7.27,-5.0],[7.28,-3.3],[7.29,-5.0],[7.30,-3.2],[7.31,-4.9],[7.32,-3.15],[7.33,-4.7],[7.34,-2.95],[7.35,-4.6],[7.36,-3.0],[7.37,-4.4],[7.38,-2.85],[7.39,-4.2],[7.40,-2.5],[7.41,-4.1],[7.42,-2.75],[7.43,-4.0],[7.44,-2.6],[7.45,-3.9],[7.46,-2.7],[7.47,-4.0],[7.48,-2.45],[7.49,-4.2],[7.50,-2.5],[7.51,-4.3],[7.52,-2.31],[7.53,-4.4],[7.54,-2.6],[7.55,-4.5],[7.56,-2.45],[7.57,-4.4],[7.58,-2.55],[7.59,-4.2],[7.60,-2.35],[7.61,-4.1],[7.62,-2.4],[7.63,-3.9],[7.64,-2.16],[7.65,-3.7],[7.66,-2.3],[7.67,-3.7],[7.68,-2.2],[7.69,-3.75],[7.70,-2.8],[7.71,-3.8],[7.72,-2.5],[7.73,-3.85],[7.74,-2.7],[7.75,-3.9],[7.76,-2.6],[7.77,-3.95],[7.78,-2.75],[7.79,-4.0],[7.80,-2.55],[7.81,-4.1],[7.82,-2.6],[7.83,-4.15],[7.84,-2.49],[7.85,-4.3],[7.86,-2.7],[7.87,-4.3],[7.88,-2.6],[7.89,-4.4],[7.90,-2.75],[7.91,-4.4],[7.92,-2.8],[7.93,-4.5],[7.94,-2.85],[7.95,-4.6],[7.96,-3.0],[7.97,-4.6],[7.98,-3.1],[7.99,-4.7],[8.00,-3.19],[8.01,-4.8],[8.02,-3.3],[8.03,-4.9],[8.04,-3.25],[8.05,-5.3],[8.06,-3.4],[8.07,-5.3],[8.08,-3.5],[8.09,-5.0],[8.10,-3.5],[8.11,-5.3],[8.12,-3.6],[8.13,-5.1],[8.14,-3.65],[8.15,-5.3],[8.16,-3.7],[8.17,-5.2],[8.18,-3.8],[8.19,-5.3],[8.20,-3.85],[8.21,-5.3],[8.22,-3.9],[8.23,-5.3],[8.24,-3.96],[8.25,-5.3],[8.26,-4.05],[8.27,-5.3],[8.28,-4.1],[8.29,-5.3],[8.30,-4.15],[8.31,-5.3],[8.32,-4.2],[8.33,-5.3],[8.34,-4.3],[8.35,-5.3],[8.36,-4.3],[8.37,-5.3],[8.38,-4.4],[8.39,-5.3],[8.40,-4.45],[8.41,-5.3],[8.42,-4.48],[8.43,-5.3],[8.44,-4.6],[8.45,-5.3],[8.46,-4.65],[8.47,-5.3],[8.48,-4.69],[8.49,-5.3],[8.50,-4.8],[8.51,-5.3],[8.53,-4.9],[8.54,-5.3]
];

const X_TICKS = [2,4,6,8,10,12,14];
const Y_TICK_VALUES = [1e-5,1e-4,1e-3,1e-2,1e-1,1,10];
const Y_TICK_TEXT = ['10<sup>-5</sup>','10<sup>-4</sup>','10<sup>-3</sup>','10<sup>-2</sup>','10<sup>-1</sup>','10<sup>0</sup>','10<sup>1</sup>'];
const COLORS = {Atmosphere:'#0072BD', H2O:'#D95319', CO2:'#EDB120', O3:'#7E2F8E', N2O:'#77AC30', CO:'#4DBEEE', CH4:'#A2142F'};

function toXY(pairs){
  const x=[], y=[];
  for (const p of pairs){
    if (p===null){ x.push(null); y.push(null); }
    else { x.push(p[0]); y.push(Math.pow(10, p[1])); }
  }
  return {x, y};
}
function lineTrace(pairs, name, show, width){
  const d = toXY(pairs);
  return {x:d.x, y:d.y, type:'scatter', mode:'lines', name:name, legendgroup:name, showlegend:show,
          connectgaps:false, line:{color:COLORS[name], width:width||1}, hoverinfo:'skip'};
}
function fillTrace(pairs, name, alpha){
  const d = toXY(pairs);
  return {x:d.x, y:d.y, type:'scatter', mode:'lines', name:name, legendgroup:name, showlegend:false,
          fill:'toself', fillcolor:COLORS[name], opacity:alpha, line:{color:COLORS[name], width:0.5}, hoverinfo:'skip'};
}

const traces = [
  lineTrace(ATMOSPHERE_LOG, 'Atmosphere', true, 1),
  lineTrace(H2O_LOG, 'H2O', true, 1),
  fillTrace(CO2_BANDS_LOG, 'CO2', 0.95),
  lineTrace(CO2_LINES_LOG, 'CO2', true, 1),
  fillTrace(O3_LOG, 'O3', 1),
  lineTrace(O3_LOG, 'O3', true, 1),
  fillTrace(N2O_BANDS_LOG, 'N2O', 1),
  lineTrace(N2O_LINES_LOG, 'N2O', true, 1),
  fillTrace(CO_LOG, 'CO', 1),
  lineTrace(CO_LOG, 'CO', true, 1),
  lineTrace(CH4_LOG, 'CH4', true, 1)
];

const labelFont = 'Open Sans, Noto Sans, sans-serif';
function label(text, x, ylog, color){
  return {text:text, x:x, y:ylog, xref:'x', yref:'y', xanchor:'left', yanchor:'middle', showarrow:false,
          font:{family:labelFont, size:40, color:color}};
}

const layout = {
  width:1478, height:881,
  margin:{l:116, r:21, t:22, b:84, pad:0},
  paper_bgcolor:'#ffffff', plot_bgcolor:'#ffffff',
  font:{family:'Liberation Sans, Arial, Helvetica, sans-serif', color:'#262626'},
  showlegend:true,
  xaxis:{
    range:[2,14], tickvals:X_TICKS, ticktext:X_TICKS.map(String),
    ticks:'inside', ticklen:12, tickcolor:'#444', tickwidth:1,
    showline:true, linecolor:'#444', linewidth:1, mirror:false,
    showgrid:true, gridcolor:'#e0e0e0', gridwidth:1, zeroline:false,
    tickfont:{size:26, color:'#262626'}, ticklabelstandoff:6,
    title:{text:'wavelength [um]', font:{size:31, color:'#262626'}, standoff:8}
  },
  yaxis:{
    type:'log', range:[-5,1], tickvals:Y_TICK_VALUES, ticktext:Y_TICK_TEXT,
    ticks:'inside', ticklen:12, tickcolor:'#444', tickwidth:1,
    showline:true, linecolor:'#444', linewidth:1, mirror:false,
    showgrid:true, gridcolor:'#e0e0e0', gridwidth:1, zeroline:false,
    minor:{dtick:'D1', ticks:'inside', ticklen:6, tickcolor:'#444', showgrid:true, gridcolor:'#d4d4d4', griddash:'dot', gridwidth:1},
    tickfont:{size:28, color:'#262626'}, ticklabelstandoff:18,
    title:{text:'Attenuation [db/m]', font:{size:31, color:'#262626'}, standoff:0}
  },
  legend:{x:0.8404, y:0.9858, xanchor:'left', yanchor:'top', bgcolor:'#ffffff', bordercolor:'#333333', borderwidth:1,
          font:{family:'DejaVu Sans, Liberation Sans, sans-serif', size:22, color:'#000000'}, itemwidth:40, tracegroupgap:0},
  annotations:[
    label('CO<sub>2</sub>', 3.36, 0.06, '#EDB120'),
    label('H<sub>2</sub>O', 8.01, -0.32, '#C0600E'),
    label('CO', 4.96, -3.50, '#5B9BD5'),
    label('CH<sub>4</sub>', 6.44, -3.54, '#B0282C'),
    label('N<sub>2</sub>O', 8.57, -4.06, '#70AD47'),
    label('O<sub>3</sub>', 10.15, -4.66, '#9400D3')
  ]
};

Plotly.newPlot('chart', traces, layout, {staticPlot:true, displayModeBar:false});
</script>
</body>
</html>
